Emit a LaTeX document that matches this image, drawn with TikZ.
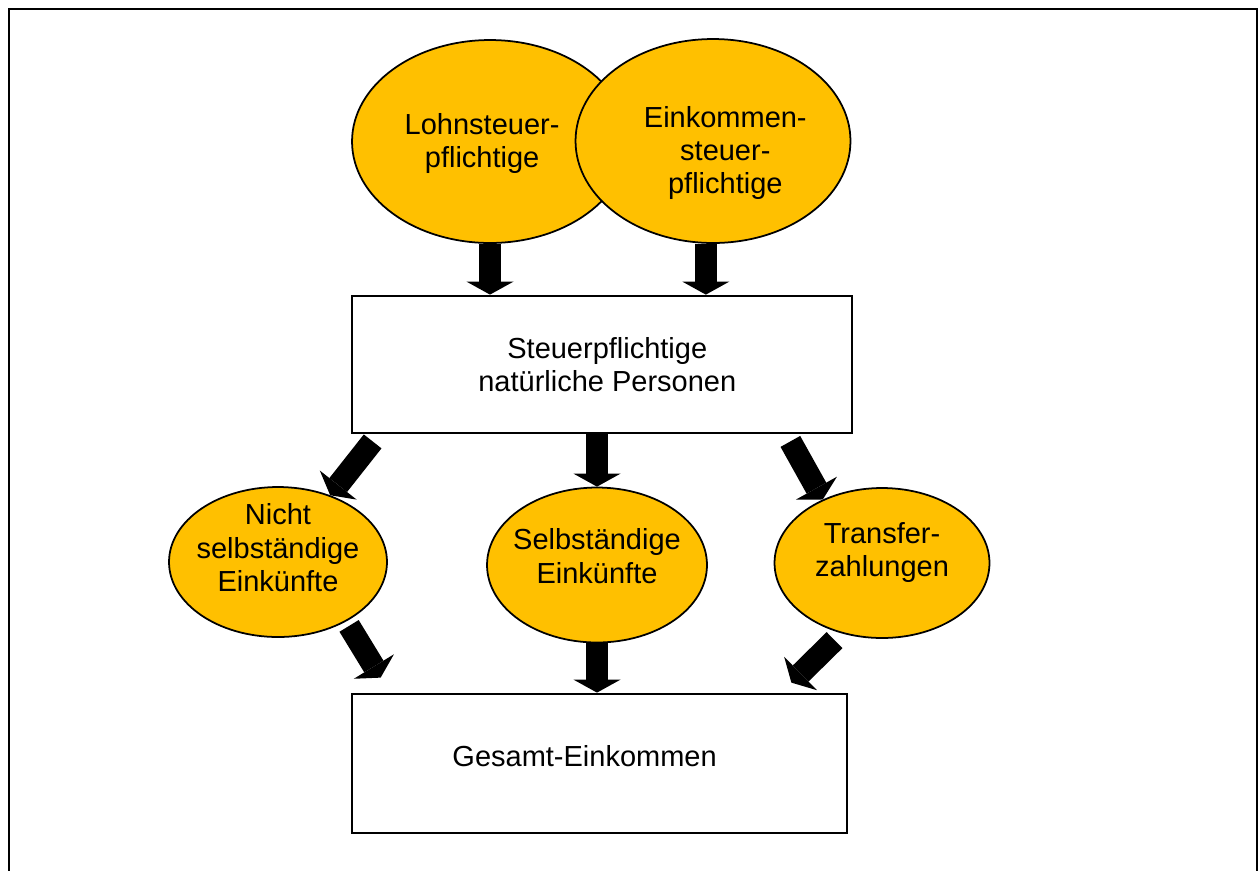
\documentclass[tikz,border=0pt]{standalone}
\usepackage{fontspec}
\setmainfont{Liberation Sans}
\usetikzlibrary{arrows.meta,calc,shapes.geometric}
\definecolor{gold}{HTML}{FFC000}
\begin{document}
\begin{tikzpicture}[x=0.02cm,y=-0.02cm]
  \tikzstyle{oval}=[ellipse,draw=black,line width=1pt,fill=gold,inner sep=0pt]
  \tikzstyle{box}=[rectangle,draw=black,line width=1.6pt,fill=white,inner sep=0pt]
  \tikzstyle{txt}=[align=center,font=\fontsize{16.5}{19}\selectfont]
  \tikzstyle{fat}=[line width=0.45cm,-{Triangle[width=0.94cm,length=0.26cm,line width=0pt]}]
  \useasboundingbox (0,0) rectangle (1260,870);
  \draw[line width=1.2pt] (9,9) rectangle (1257,900);

  % top row
  \node[oval,minimum width=5.52cm,minimum height=4.06cm,
        label={[txt,xshift=-4.5pt,yshift=-1pt]center:{Lohnsteuer-\\pflichtige}}] (lohn) at (490,141.5) {};
  \node[oval,minimum width=5.5cm,minimum height=4.08cm,
        label={[txt,xshift=7pt,yshift=-6.8pt]center:{Einkommen-\\steuer-\\pflichtige}}] (ekst) at (713,141) {};
  \node[box,minimum width=10cm,minimum height=2.74cm,
        label={[txt,xshift=3pt]center:{Steuerpflichtige\\natürliche Personen}}] (person) at (602,364.5) {};

  % income types
  \node[oval,minimum width=4.36cm,minimum height=3cm,
        label={[txt,yshift=8pt]center:{Nicht\\selbständige\\Einkünfte}}] (nsa) at (278,562) {};
  \node[oval,minimum width=4.4cm,minimum height=3.1cm,
        label={[txt,yshift=5pt]center:{Selbständige\\Einkünfte}}] (sa) at (597,565) {};
  \node[oval,minimum width=4.3cm,minimum height=3cm,
        label={[txt,yshift=6pt]center:{Transfer-\\zahlungen}}] (trans) at (882,563) {};
  \node[box,minimum width=9.9cm,minimum height=2.78cm,
        label={[txt,xshift=-8.5pt,yshift=4pt]center:{Gesamt-Einkommen}}] (gesamt) at (599.5,763.5) {};

  \draw[fat] (lohn.south) -- (lohn.south |- person.north);
  \draw[fat] (ekst.266) -- (ekst.266 |- person.north);
  \draw[fat] ($(person.south west)+(22,7)$) -- (nsa.52);
  \draw[fat] (sa.north |- person.south) -- (sa.north);
  \draw[fat] ($(person.south east)+(-63,7)$) -- (trans.133);
  \draw[fat,shorten <=3pt] (nsa.-41) -- ($(gesamt.north west)+(30,-15)$);
  \draw[fat] (sa.south) -- (sa.south |- gesamt.north);
  \draw[fat,shorten <=5.5pt] (trans.-120) -- ($(gesamt.north east)+(-57,-10)$);
\end{tikzpicture}
\end{document}
